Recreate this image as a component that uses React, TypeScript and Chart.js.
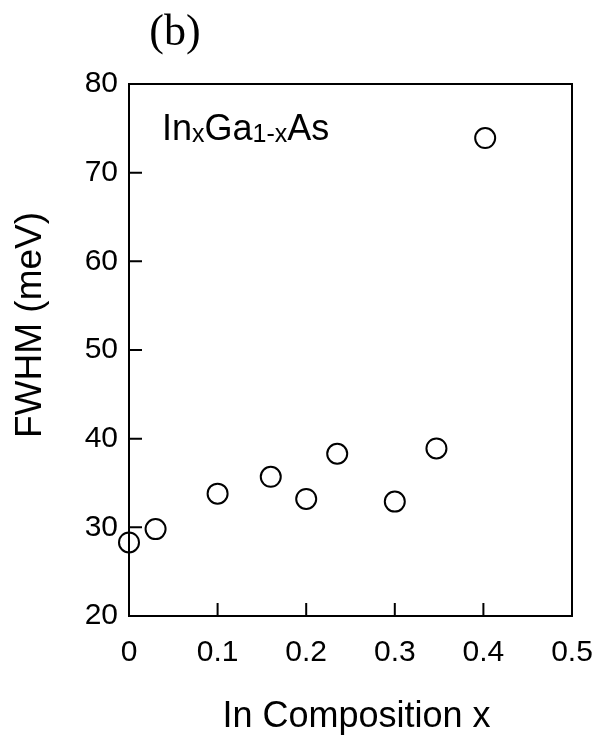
import React, { useEffect, useRef } from "react";
import { Chart, registerables } from "chart.js";

Chart.register(...registerables);

// ---- data ----
const compositionX = [0.0, 0.03, 0.1, 0.16, 0.2, 0.235, 0.3, 0.347, 0.402];
const fwhmMeV = [28.3, 29.8, 33.8, 35.7, 33.2, 38.3, 32.9, 38.9, 73.9];

const xTickLabels = ["0", "0.1", "0.2", "0.3", "0.4", "0.5"];
const yTickLabels = ["20", "30", "40", "50", "60", "70", "80"];
const xTickValues = [0, 0.1, 0.2, 0.3, 0.4, 0.5];
const yTickValues = [20, 30, 40, 50, 60, 70, 80];

const xTitle = "In Composition x";
const yTitle = "FWHM (meV)";
const panelLabel = "(b)";
// annotation pieces: [text, isSubscript]
const annotationParts: [string, boolean][] = [
  ["In", false],
  ["x", true],
  ["Ga", false],
  ["1-x", true],
  ["As", false],
];

const SANS = '"Liberation Sans", Arial, Helvetica, sans-serif';
const SERIF = '"Liberation Serif", "Times New Roman", Times, serif';

const framePlugin = {
  id: "frameAndText",
  afterDraw(chart: any) {
    const { ctx, chartArea, scales } = chart;
    const { left, right, top, bottom } = chartArea;
    const xs = scales.x;
    const ys = scales.y;
    ctx.save();
    ctx.strokeStyle = "#000";
    ctx.lineWidth = 2;
    ctx.strokeRect(left, top, right - left, bottom - top);

    // inward tick marks on bottom and left
    const tickLen = 13;
    ctx.beginPath();
    xTickValues.forEach((v) => {
      const px = xs.getPixelForValue(v);
      if (px > left + 1 && px < right - 1) {
        ctx.moveTo(px, bottom);
        ctx.lineTo(px, bottom - tickLen);
      }
    });
    yTickValues.forEach((v) => {
      const py = ys.getPixelForValue(v);
      if (py > top + 1 && py < bottom - 1) {
        ctx.moveTo(left, py);
        ctx.lineTo(left + tickLen, py);
      }
    });
    ctx.stroke();

    ctx.fillStyle = "#000";
    // x title
    ctx.font = `36px ${SANS}`;
    ctx.textAlign = "center";
    ctx.textBaseline = "alphabetic";
    ctx.fillText(xTitle, (left + right) / 2 + 6, 727);

    // y title
    ctx.font = `37px ${SANS}`;
    ctx.save();
    ctx.translate(41, (top + bottom) / 2 - 25);
    ctx.rotate(-Math.PI / 2);
    ctx.fillText(yTitle, 0, 0);
    ctx.restore();

    // panel label
    ctx.font = `44px ${SERIF}`;
    ctx.textAlign = "center";
    ctx.fillText(panelLabel, 175, 45);

    // annotation In_xGa_{1-x}As
    ctx.textAlign = "left";
    let ax = left + 33;
    const ay = top + 56;
    annotationParts.forEach(([t, sub]) => {
      ctx.font = sub ? `25px ${SANS}` : `36px ${SANS}`;
      ctx.fillText(t, ax, sub ? ay + 2 : ay);
      ax += ctx.measureText(t).width;
    });

    ctx.restore();
  },
};

export default function App() {
  const canvasRef = useRef<HTMLCanvasElement | null>(null);

  useEffect(() => {
    const canvas = canvasRef.current;
    if (!canvas) return;
    const chart = new Chart(canvas, {
      type: "scatter",
      data: {
        datasets: [
          {
            label: "FWHM",
            data: compositionX.map((x, i) => ({ x, y: fwhmMeV[i] })),
            pointStyle: "circle",
            pointRadius: 10,
            pointHoverRadius: 10,
            borderWidth: 2,
            borderColor: "#000",
            backgroundColor: "rgba(0,0,0,0)",
            clip: false,
          } as any,
        ],
      },
      options: {
        responsive: false,
        animation: false,
        devicePixelRatio: 1,
        layout: { padding: { top: 84, right: 23, left: 0, bottom: 0 } },
        plugins: {
          legend: { display: false },
          tooltip: { enabled: false },
          title: { display: false },
        },
        scales: {
          x: {
            type: "linear",
            min: 0,
            max: 0.5,
            afterBuildTicks: (scale: any) => {
              scale.ticks = xTickValues.map((v) => ({ value: v }));
            },
            afterFit: (scale: any) => {
              scale.height = 125;
              scale.paddingLeft = 0;
              scale.paddingRight = 0;
            },
            grid: { display: false, drawTicks: false },
            border: { display: false },
            ticks: {
              color: "#000",
              font: { family: SANS, size: 30 },
              padding: 19,
              maxRotation: 0,
              callback: (_v: any, i: number) => xTickLabels[i],
            },
            title: { display: false },
          },
          y: {
            type: "linear",
            min: 20,
            max: 80,
            afterBuildTicks: (scale: any) => {
              scale.ticks = yTickValues.map((v) => ({ value: v }));
            },
            afterFit: (scale: any) => {
              scale.width = 129;
              scale.paddingTop = 0;
              scale.paddingBottom = 0;
            },
            grid: { display: false, drawTicks: false },
            border: { display: false },
            ticks: {
              color: "#000",
              font: { family: SANS, size: 30 },
              padding: 11,
              callback: (_v: any, i: number) => yTickLabels[i],
            },
            title: { display: false },
          },
        },
      },
      plugins: [framePlugin],
    });
    return () => chart.destroy();
  }, []);

  return (
    <div style={{ position: "absolute", left: 0, top: 0, width: 595, height: 741, background: "#fff" }}>
      <canvas ref={canvasRef} width={595} height={741} style={{ width: 595, height: 741, display: "block" }} />
    </div>
  );
}
